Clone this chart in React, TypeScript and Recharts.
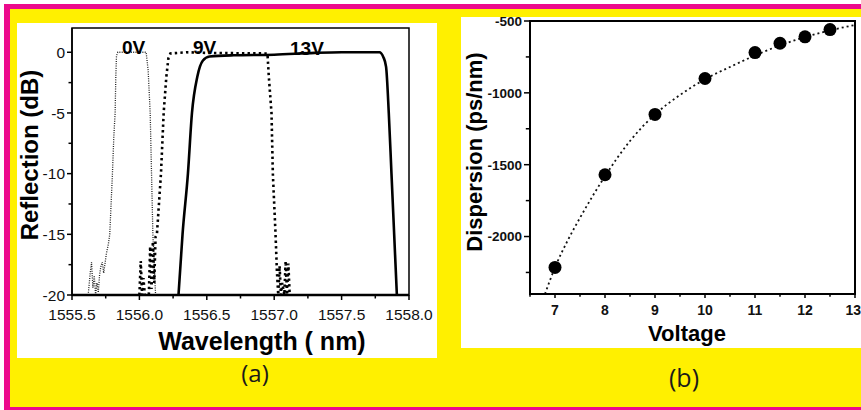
import React from 'react';
import { LineChart, ComposedChart, Line, Scatter, XAxis, YAxis, ReferenceArea } from 'recharts';

// ---------- Panel (a): reflection spectra ----------
const wavelengthTicks = [1555.5, 1555.75, 1556.0, 1556.25, 1556.5, 1556.75, 1557.0, 1557.25, 1557.5, 1557.75, 1558.0];
const wavelengthMajor = [1555.5, 1556.0, 1556.5, 1557.0, 1557.5, 1558.0];
const reflectionTicks = [-20, -17.5, -15, -12.5, -10, -7.5, -5, -2.5, 0];
const reflectionMajor = [-20, -15, -10, -5, 0];

const spectrum0V = [
  { x: 1555.62, y: -20 }, { x: 1555.635, y: -18.2 }, { x: 1555.645, y: -17.3 }, { x: 1555.655, y: -19.4 },
  { x: 1555.665, y: -18.4 }, { x: 1555.675, y: -20 }, { x: 1555.685, y: -19 }, { x: 1555.695, y: -19.8 },
  { x: 1555.705, y: -18.3 }, { x: 1555.715, y: -17.6 }, { x: 1555.725, y: -17.3 }, { x: 1555.735, y: -18.2 },
  { x: 1555.745, y: -17.4 }, { x: 1555.755, y: -16.6 }, { x: 1555.77, y: -15.8 }, { x: 1555.78, y: -15 },
  { x: 1555.79, y: -12.5 }, { x: 1555.80, y: -10 }, { x: 1555.81, y: -7 }, { x: 1555.82, y: -5 },
  { x: 1555.825, y: -2 }, { x: 1555.83, y: -0.3 }, { x: 1555.84, y: 0 }, { x: 1555.95, y: 0 },
  { x: 1556.05, y: 0 }, { x: 1556.065, y: -1.5 }, { x: 1556.08, y: -5 }, { x: 1556.09, y: -10 },
  { x: 1556.10, y: -15 }, { x: 1556.11, y: -17.5 }, { x: 1556.12, y: -20 },
];

const spectrum9V = [
  { x: 1556.0, y: -20 }, { x: 1556.01, y: -17.2 }, { x: 1556.02, y: -20 }, { x: 1556.03, y: -18.6 },
  { x: 1556.04, y: -20 }, { x: 1556.07, y: -20 }, { x: 1556.08, y: -16 }, { x: 1556.09, y: -19.5 },
  { x: 1556.10, y: -15.6 }, { x: 1556.11, y: -19 }, { x: 1556.12, y: -15.2 }, { x: 1556.13, y: -15 },
  { x: 1556.145, y: -12.5 }, { x: 1556.16, y: -10 }, { x: 1556.17, y: -7.5 }, { x: 1556.18, y: -5 },
  { x: 1556.20, y: -2 }, { x: 1556.215, y: -0.5 }, { x: 1556.23, y: -0.1 }, { x: 1556.35, y: 0 },
  { x: 1556.5, y: -0.05 }, { x: 1556.95, y: -0.1 }, { x: 1556.96, y: -2 }, { x: 1556.98, y: -5 },
  { x: 1556.99, y: -10 }, { x: 1557.01, y: -15 }, { x: 1557.02, y: -18 }, { x: 1557.03, y: -20 },
  { x: 1557.04, y: -17.6 }, { x: 1557.05, y: -20 }, { x: 1557.06, y: -19 }, { x: 1557.075, y: -20 },
  { x: 1557.085, y: -17.2 }, { x: 1557.095, y: -20 }, { x: 1557.105, y: -17.4 }, { x: 1557.115, y: -20 },
];

const spectrum13V = [
  { x: 1556.29, y: -20 }, { x: 1556.32, y: -15 }, { x: 1556.36, y: -10 }, { x: 1556.39, y: -5 },
  { x: 1556.43, y: -2 }, { x: 1556.47, y: -0.7 }, { x: 1556.52, y: -0.35 }, { x: 1556.7, y: -0.25 },
  { x: 1557.0, y: -0.2 }, { x: 1557.3, y: -0.05 }, { x: 1557.5, y: 0 }, { x: 1557.78, y: 0 },
  { x: 1557.81, y: -0.4 }, { x: 1557.83, y: -1.2 }, { x: 1557.85, y: -5 }, { x: 1557.87, y: -10 },
  { x: 1557.89, y: -15 }, { x: 1557.91, y: -20 },
];

const spectrumLabels = ['0V', '9V', '13V'];

// ---------- Panel (b): dispersion vs voltage ----------
const voltageTicks = [6.5, 7, 7.5, 8, 8.5, 9, 9.5, 10, 10.5, 11, 11.5, 12, 12.5, 13];
const voltageMajor = [7, 8, 9, 10, 11, 12, 13];
const dispersionTicks = [-2250, -2000, -1750, -1500, -1250, -1000, -750, -500];
const dispersionMajor = [-2000, -1500, -1000, -500];

const measuredDispersion = [
  { x: 7, y: -2215 }, { x: 8, y: -1570 }, { x: 9, y: -1150 }, { x: 10, y: -900 },
  { x: 11, y: -720 }, { x: 11.5, y: -655 }, { x: 12, y: -610 }, { x: 12.5, y: -560 },
];

const fittedDispersion = [
  { x: 6.8, y: -2400 }, { x: 7, y: -2215 }, { x: 7.25, y: -2030 }, { x: 7.5, y: -1870 },
  { x: 7.75, y: -1720 }, { x: 8, y: -1580 }, { x: 8.5, y: -1335 }, { x: 9, y: -1150 },
  { x: 9.5, y: -1015 }, { x: 10, y: -905 }, { x: 10.5, y: -820 }, { x: 11, y: -740 },
  { x: 11.5, y: -670 }, { x: 12, y: -612 }, { x: 12.5, y: -565 }, { x: 13, y: -528 },
];

const FONT = '"Liberation Sans", Arial, Helvetica, sans-serif';

const isIn = (arr: number[], v: number) => arr.some((m) => Math.abs(m - v) < 1e-6);

function makeXTick(majors: number[], fmt: (v: number) => string, len: number, labelDy: number, weight: string, size: number, lastEndAt?: number) {
  const last = majors[majors.length - 1];
  return (props: any) => {
    const { x, y, payload } = props;
    const v = payload.value;
    const major = isIn(majors, v);
    const endLast = lastEndAt !== undefined && Math.abs(v - last) < 1e-6;
    return (
      <g>
        <line x1={x} x2={x} y1={y} y2={y + (major ? len : len * 0.7)} stroke="#000" strokeWidth={1.5} />
        {major && (
          <text
            x={endLast ? x + (lastEndAt as number) : x}
            y={y + labelDy}
            textAnchor={endLast ? 'end' : 'middle'}
            fontFamily={FONT}
            fontSize={size}
            fontWeight={weight}
            fill="#111"
          >
            {fmt(v)}
          </text>
        )}
      </g>
    );
  };
}

function makeYTick(majors: number[], fmt: (v: number) => string, len: number, labelDx: number, weight: string, size: number, topShift = 0) {
  const top = majors[majors.length - 1];
  return (props: any) => {
    const { x, y, payload } = props;
    const v = payload.value;
    const major = isIn(majors, v);
    const shift = Math.abs(v - top) < 1e-6 ? topShift : 0;
    return (
      <g>
        <line x1={x} x2={x - (major ? len : len * 0.7)} y1={y} y2={y} stroke="#000" strokeWidth={1.5} />
        {major && (
          <text x={x - labelDx} y={y + size * 0.36 + shift} textAnchor="end" fontFamily={FONT} fontSize={size} fontWeight={weight} fill="#111">
            {fmt(v)}
          </text>
        )}
      </g>
    );
  };
}

const XTickA = makeXTick(wavelengthMajor, (v) => v.toFixed(1), 5, 25, 'normal', 15.5);
const YTickA = makeYTick(reflectionMajor, (v) => String(v), 5, 7, 'normal', 15.5);
const XTickB = makeXTick(voltageMajor, (v) => String(v), 4, 21, 'bold', 14, 6);
const YTickB = makeYTick(dispersionMajor, (v) => String(v), 6, 8, 'bold', 13.5, 0.5);

const Dot = (props: any) => <circle cx={props.cx} cy={props.cy} r={6.5} fill="#000" />;

export default function App() {
  return (
    <div style={{ position: 'absolute', left: 0, top: 0, width: 861, height: 410, overflow: 'hidden', background: '#fff' }}>
      {/* magenta frame */}
      <div style={{ position: 'absolute', left: 4, top: 4, width: 857, height: 406, background: '#EC0A8C' }} />
      {/* yellow field */}
      <div style={{ position: 'absolute', left: 10, top: 9, width: 851, height: 398, background: '#FFF000' }} />
      {/* white panels */}
      <div style={{ position: 'absolute', left: 17, top: 23, width: 420, height: 335, background: '#fff' }} />
      <div style={{ position: 'absolute', left: 461, top: 17, width: 400, height: 331, background: '#fff' }} />

      <div style={{ position: 'absolute', left: 17, top: 23 }}>
        <LineChart width={420} height={335} margin={{ top: 5, right: 28, left: 0, bottom: 0 }}>
          <XAxis
            type="number"
            dataKey="x"
            domain={[1555.5, 1558.0]}
            ticks={wavelengthTicks}
            interval={0}
            allowDataOverflow
            height={63}
            tickSize={0}
            tickMargin={0}
            tickLine={false}
            tick={XTickA}
            axisLine={{ stroke: '#000', strokeWidth: 2.5 }}
          />
          <YAxis
            type="number"
            dataKey="y"
            domain={[-20, 2]}
            ticks={reflectionTicks}
            interval={0}
            allowDataOverflow
            width={55}
            tickSize={0}
            tickMargin={0}
            tickLine={false}
            tick={YTickA}
            axisLine={{ stroke: '#000', strokeWidth: 1.5 }}
          />
          <ReferenceArea x1={1555.5} x2={1558.0} y1={-20} y2={2} fill="none" stroke="#000" strokeWidth={1.5} />
          <Line data={spectrum0V} dataKey="y" name={spectrumLabels[0]} type="linear" stroke="#222" strokeWidth={1.3} strokeDasharray="1 1.3" dot={false} isAnimationActive={false} />
          <Line data={spectrum9V} dataKey="y" name={spectrumLabels[1]} type="linear" stroke="#000" strokeWidth={2.6} strokeDasharray="2.4 3.2" dot={false} isAnimationActive={false} />
          <Line data={spectrum13V} dataKey="y" name={spectrumLabels[2]} type="monotone" stroke="#000" strokeWidth={2.6} dot={false} isAnimationActive={false} />
        </LineChart>
      </div>

      <div style={{ position: 'absolute', left: 461, top: 9 }}>
        <ComposedChart width={400} height={339} margin={{ top: 12, right: 6, left: 0, bottom: 0 }}>
          <XAxis
            type="number"
            dataKey="x"
            domain={[6.5, 13]}
            ticks={voltageTicks}
            interval={0}
            allowDataOverflow
            height={54}
            tickSize={0}
            tickMargin={0}
            tickLine={false}
            tick={XTickB}
            axisLine={{ stroke: '#000', strokeWidth: 2 }}
          />
          <YAxis
            type="number"
            dataKey="y"
            domain={[-2400, -500]}
            ticks={dispersionTicks}
            interval={0}
            allowDataOverflow
            width={69}
            tickSize={0}
            tickMargin={0}
            tickLine={false}
            tick={YTickB}
            axisLine={{ stroke: '#000', strokeWidth: 2 }}
          />
          <ReferenceArea x1={6.5} x2={13} y1={-2400} y2={-500} fill="none" stroke="#000" strokeWidth={2} />
          <Line data={fittedDispersion} dataKey="y" type="monotone" stroke="#111" strokeWidth={1.8} strokeDasharray="2 3" dot={false} isAnimationActive={false} />
          <Scatter data={measuredDispersion} dataKey="y" fill="#000" shape={Dot} isAnimationActive={false} />
        </ComposedChart>
      </div>

      {/* text overlay */}
      <svg width={861} height={410} style={{ position: 'absolute', left: 0, top: 0, pointerEvents: 'none' }}>
        <g fontFamily={FONT} fontWeight="bold" fill="#000">
          <text transform="translate(38,155) rotate(-90)" textAnchor="middle" fontSize={24}>Reflection (dB)</text>
          <text x={262} y={350} textAnchor="middle" fontSize={25}>Wavelength ( nm)</text>
          <text x={122} y={54} fontSize={19}>{spectrumLabels[0]}</text>
          <text x={193} y={54} fontSize={19}>{spectrumLabels[1]}</text>
          <text x={290} y={55} fontSize={19}>{spectrumLabels[2]}</text>
          <text transform="translate(482,152) rotate(-90)" textAnchor="middle" fontSize={22}>Dispersion (ps/nm)</text>
          <text x={687} y={341} textAnchor="middle" fontSize={22}>Voltage</text>
        </g>
        <g fontFamily={'"Open Sans", "DejaVu Sans", sans-serif'} fill="#1a1a1a">
          <text x={255} y={382} textAnchor="middle" fontSize={24}>(a)</text>
          <text x={684} y={387} textAnchor="middle" fontSize={25}>(b)</text>
        </g>
      </svg>
    </div>
  );
}
